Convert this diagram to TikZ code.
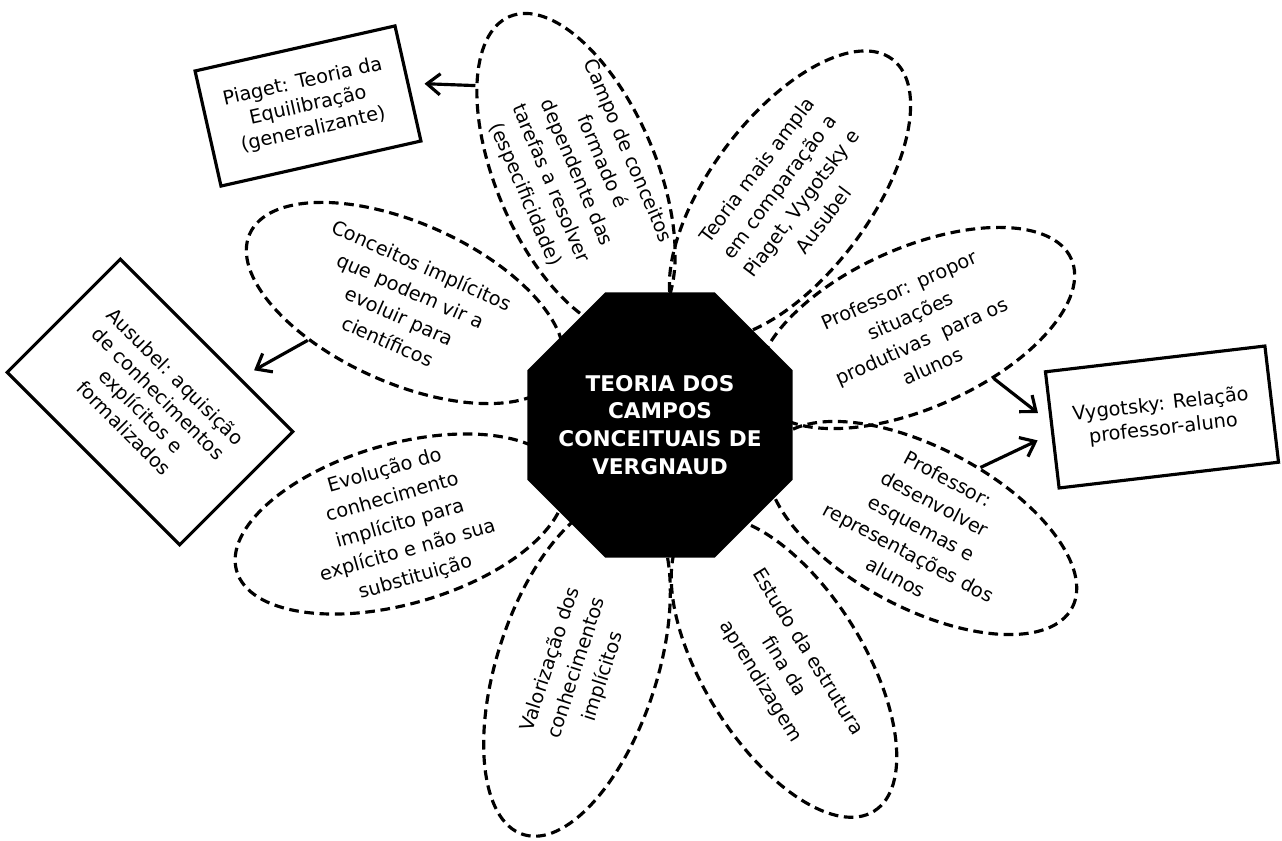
\documentclass[tikz,border=0pt]{standalone}
\usepackage{fontspec}
\setmainfont{DejaVu Sans}
\usetikzlibrary{shapes.geometric,arrows.meta}

\begin{document}
\begin{tikzpicture}[x=0.02cm, y=-0.02cm,
    every node/.style={font=\fontsize{11}{15.8}\selectfont, align=center},
    petal/.style={ellipse, draw, line width=1.8pt, dash pattern=on 5.5pt off 3.2pt,
      minimum width=6.8cm, minimum height=3.2cm, inner sep=-0.5cm},
    theory/.style={rectangle, draw, line width=1.8pt, inner sep=0pt,
      font=\fontsize{11}{13.8}\selectfont},
    link/.style={line width=1.8pt, -{Straight Barb[length=7.5pt,width=12pt]}, shorten >=0.3cm}]
  \useasboundingbox (0,0) rectangle (1282,841);

  \node[petal, rotate=-67] (campo) at (576,173) {Campo de conceitos\\formado é\\dependente das\\tarefas a resolver\\(especificidade)};
  \node[petal, rotate=53] (ampla) at (790,195) {Teoria mais ampla\\em comparação a\\Piaget, Vygotsky e\\Ausubel};
  \node[petal, rotate=24] (propor) at (916,328) {Professor: propor\\situações\\produtivas\ \ para os\\alunos};
  \node[petal, rotate=-28] (desenvolver) at (922,528) {Professor:\\desenvolver\\esquemas e\\representações dos\\alunos};
  \node[petal, rotate=-58] (estrutura) at (784,667) {Estudo da estrutura\\fina da\\aprendizagem};
  \node[petal, rotate=72, minimum width=7cm] (valorizacao) at (577,668) {Valorização dos\\conhecimentos\\implícitos};
  \node[petal, rotate=16] (evolucao) at (400,524) {Evolução do\\conhecimento\\implícito para\\explícito e não sua\\substituição};
  \node[petal, rotate=-24] (conceitos) at (405,303) {Conceitos implícitos\\que podem vir a\\evoluir para\\científicos};

  \node[regular polygon, regular polygon sides=8, minimum size=5.74cm, inner sep=-0.5cm,
    fill=black, text=white, font=\fontsize{12.3}{15.8}\selectfont\bfseries] (tcc) at (660,425)
    {TEORIA DOS\\CAMPOS\\CONCEITUAIS DE\\VERGNAUD};

  \node[theory, rotate=12.7, minimum width=4.1cm, minimum height=2.36cm] (piaget) at (308,106) {Piaget: Teoria da\\Equilibração\\(generalizante)};
  \node[theory, rotate=-45, minimum width=4.88cm, minimum height=3.2cm] (ausubel) at (150,402) {Ausubel: aquisição\\de conhecimentos\\explícitos e\\formalizados};
  \node[theory, rotate=6.7, minimum width=4.42cm, minimum height=2.34cm] (vygotsky) at (1162,417) {Vygotsky: Relação\\professor-aluno};

  \draw[link] (campo.206) -- (piaget.east);
  \draw[link] (conceitos.225) -- (ausubel.60);
  \draw[link] (propor.-57) -- (vygotsky.176);
  \draw[link] (desenvolver.74) -- (vygotsky.182);
\end{tikzpicture}
\end{document}
